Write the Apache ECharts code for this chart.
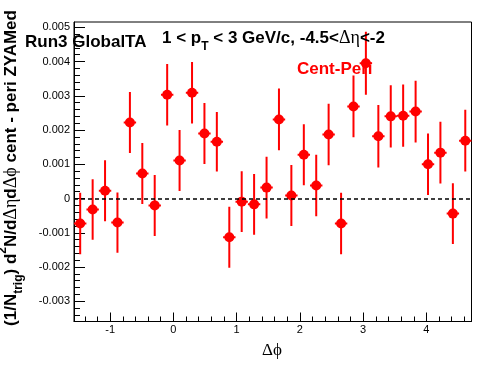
<!DOCTYPE html>
<html><head><meta charset="utf-8">
<script src="https://cdn.jsdelivr.net/npm/echarts@6/dist/echarts.min.js"></script>
<style>html,body{margin:0;padding:0;background:#fff}#c{width:496px;height:374px}</style>
</head><body><div id="c"></div>
<script>
// Bin centres in delta-phi (32 bins over [-pi/2, 3pi/2])
const dphi = [-1.473,-1.276,-1.080,-0.884,-0.687,-0.491,-0.295,-0.098,
              0.098,0.295,0.491,0.687,0.884,1.080,1.276,1.473,
              1.669,1.865,2.062,2.258,2.454,2.651,2.847,3.043,
              3.240,3.436,3.632,3.829,4.025,4.221,4.418,4.614];
const binHalfWidth = 0.098;
// Cent - Peri yields
const centPeri = [-0.00073,-0.00032,0.00023,-0.00070,0.00222,0.00073,-0.00020,0.00303,
                  0.00111,0.00309,0.00190,0.00166,-0.00113,-0.00009,-0.00017,0.00032,
                  0.00231,0.00009,0.00128,0.00038,0.00187,-0.00073,0.00269,0.00395,
                  0.00182,0.00240,0.00242,0.00254,0.00100,0.00134,-0.00044,0.00169];
const centPeriErr = [0.00090,0.00088,0.00089,0.00088,0.00089,0.00089,0.00089,0.00090,
                     0.00089,0.00090,0.00089,0.00087,0.00089,0.00089,0.00089,0.00090,
                     0.00090,0.00089,0.00089,0.00090,0.00090,0.00090,0.00090,0.00092,
                     0.00091,0.00091,0.00091,0.00090,0.00090,0.00090,0.00089,0.00090];
// Axis ranges and ticks
const xMin = -Math.PI/2, xMax = 3*Math.PI/2;
const yMin = -0.00359, yMax = 0.005155;
const xMajor = [-1,0,1,2,3,4];
const yMajor = [-0.003,-0.002,-0.001,0,0.001,0.002,0.003,0.004,0.005];
const xMinor = []; for (let k=-7;k<=23;k++) xMinor.push(k*0.2);
const yMinor = []; for (let k=-17;k<=25;k++) yMinor.push(k*0.0002);

const chart = echarts.init(document.getElementById('c'), null, {renderer:'canvas'});
const FONT = 'Liberation Sans, Arial, Helvetica, sans-serif';
const SERIF = 'Liberation Serif, DejaVu Serif, serif';

function renderItem(params, api){
  const x = api.value(0), y = api.value(1), e = api.value(2);
  const t = api.coord([x, y+e]), b = api.coord([x, y-e]);
  const l = api.coord([x-binHalfWidth, y]), r = api.coord([x+binHalfWidth, y]);
  return {type:'group', children:[
    {type:'line', shape:{x1:t[0],y1:t[1],x2:b[0],y2:b[1]}, style:{stroke:'#ff0000',lineWidth:2}},
    {type:'line', shape:{x1:l[0],y1:l[1],x2:r[0],y2:r[1]}, style:{stroke:'#ff0000',lineWidth:2}}
  ]};
}

const option = {
  animation:false,
  backgroundColor:'#ffffff',
  grid:{left:74, right:24.5, top:22, bottom:52.5, show:true, borderColor:'#000', borderWidth:1, backgroundColor:'transparent'},
  xAxis:[
    {type:'value', min:xMin, max:xMax, position:'bottom',
     axisLine:{show:true, onZero:false, lineStyle:{color:'#000', width:1}},
     axisTick:{show:true, inside:true, length:9, customValues:xMajor, lineStyle:{color:'#000', width:1}},
     axisLabel:{show:true, customValues:xMajor, color:'#000', fontSize:11, fontFamily:FONT, margin:3},
     splitLine:{show:false}},
    {type:'value', min:xMin, max:xMax, position:'bottom',
     axisLine:{show:false, onZero:false},
     axisTick:{show:true, inside:true, length:5, customValues:xMinor, lineStyle:{color:'#000', width:1}},
     axisLabel:{show:false, customValues:xMinor},
     splitLine:{show:false}}
  ],
  yAxis:[
    {type:'value', min:yMin, max:yMax, position:'left',
     axisLine:{show:true, onZero:false, lineStyle:{color:'#000', width:1}},
     axisTick:{show:true, inside:true, length:11, customValues:yMajor, lineStyle:{color:'#000', width:1}},
     axisLabel:{show:true, customValues:yMajor, color:'#000', fontSize:11, fontFamily:FONT, margin:4},
     splitLine:{show:false}},
    {type:'value', min:yMin, max:yMax, position:'left',
     axisLine:{show:false, onZero:false},
     axisTick:{show:true, inside:true, length:6, customValues:yMinor, lineStyle:{color:'#000', width:1}},
     axisLabel:{show:false, customValues:yMinor},
     splitLine:{show:false}}
  ],
  series:[
    {type:'custom', xAxisIndex:0, yAxisIndex:0, clip:true, renderItem:renderItem,
     data:dphi.map((x,i)=>[x, centPeri[i], centPeriErr[i]]), encode:{x:0,y:1}, z:2,
     markLine:{silent:true, symbol:['none','none'], label:{show:false},
       lineStyle:{color:'#000', type:[4,3], width:1.5}, data:[{yAxis:0}]}},
    {type:'scatter', xAxisIndex:0, yAxisIndex:0, symbol:'circle', symbolSize:10,
     itemStyle:{color:'#ff0000', opacity:1}, z:3,
     data:dphi.map((x,i)=>[x, centPeri[i]])}
  ],
  graphic:[
    {type:'text', x:25, y:42, z:10, style:{text:'Run3 GlobalTA', fill:'#000', font:'bold 17px '+FONT, align:'left', verticalAlign:'middle'}},
    {type:'text', x:162, y:38, z:10, style:{
      text:'{m|1 < p}{s|T}{m| < 3 GeV/c, -4.5<}{g|Δη}{m|<-2}',
      align:'left', verticalAlign:'middle',
      rich:{
        m:{fill:'#000', fontSize:17, fontWeight:'bold', fontFamily:FONT, lineHeight:30},
        s:{fill:'#000', fontSize:12, fontWeight:'bold', fontFamily:FONT, lineHeight:10, verticalAlign:'bottom'},
        g:{fill:'#000', fontSize:18, fontWeight:'normal', fontFamily:SERIF, lineHeight:30}
      }}},
    {type:'text', x:297, y:69, z:10, style:{text:'Cent-Peri', fill:'#ff0000', font:'bold 17px '+FONT, align:'left', verticalAlign:'middle'}},
    {type:'text', x:11, y:168, rotation:Math.PI/2, z:10, style:{
      text:'{m|(1/N}{s|trig}{m|) d}{p|2}{m|N/d}{g|Δη}{m|d}{g|Δϕ}{m| cent - peri ZYAMed}',
      align:'center', verticalAlign:'middle',
      rich:{
        m:{fill:'#000', fontSize:17, fontWeight:'bold', fontFamily:FONT, lineHeight:28},
        s:{fill:'#000', fontSize:12, fontWeight:'bold', fontFamily:FONT, lineHeight:10, verticalAlign:'bottom'},
        p:{fill:'#000', fontSize:12, fontWeight:'bold', fontFamily:FONT, lineHeight:18, verticalAlign:'top'},
        g:{fill:'#000', fontSize:18, fontWeight:'normal', fontFamily:SERIF, lineHeight:28}
      }}},
    {type:'text', x:272, y:351, z:10, style:{text:'Δϕ', fill:'#000', font:'17px '+SERIF, align:'center', verticalAlign:'middle'}}
  ]
};
chart.setOption(option);
</script>
</body></html>
